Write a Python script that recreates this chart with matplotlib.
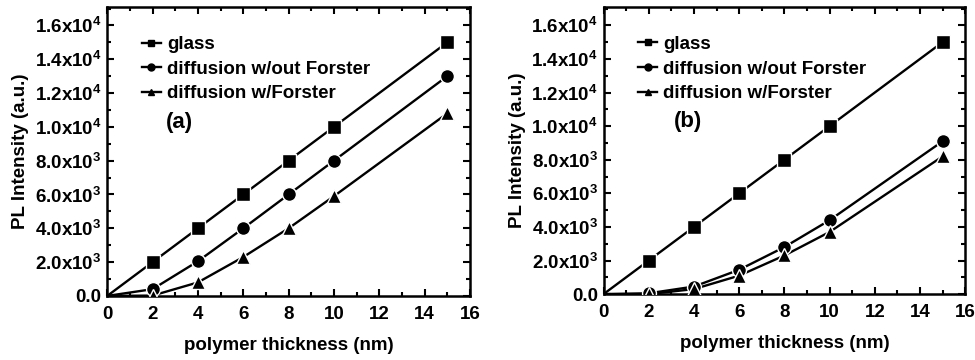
import matplotlib
matplotlib.use("Agg")
import matplotlib.pyplot as plt
from matplotlib.ticker import MultipleLocator, FuncFormatter

plt.rcParams['font.family'] = ['Liberation Sans', 'DejaVu Sans']
plt.rcParams['font.weight'] = 'bold'
plt.rcParams['mathtext.fontset'] = 'custom'
plt.rcParams['mathtext.rm'] = 'Liberation Sans:bold'
plt.rcParams['mathtext.bf'] = 'Liberation Sans:bold'
plt.rcParams['mathtext.default'] = 'bf'

thickness = [0, 2, 4, 6, 8, 10, 15]

# panel (a)
a_glass = [0, 2000, 4000, 6000, 8000, 10000, 15000]
a_no_forster = [0, 400, 2050, 4000, 6000, 8000, 13000]
a_forster = [0, 20, 800, 2300, 4000, 5900, 10800]

# panel (b)
b_glass = [0, 2000, 4000, 6000, 8000, 10000, 15000]
b_no_forster = [0, 50, 450, 1450, 2800, 4400, 9100]
b_forster = [0, 0, 300, 1100, 2300, 3700, 8200]

labels = ["glass", "diffusion w/out Forster", "diffusion w/Forster"]
panel_tags = ["(a)", "(b)"]
markers = ["s", "o", "^"]

FS = 13.5

fig = plt.figure(figsize=(9.75, 3.6), dpi=100)
ax1 = fig.add_axes([0.110, 0.178, 0.372, 0.803])
ax2 = fig.add_axes([0.619, 0.183, 0.371, 0.798])


def fmt(v, pos):
    if abs(v) < 1e-9:
        return "0.0"
    e = 4 if v >= 1e4 else 3
    m = v / 10 ** e
    return r"%.1fx10$^{%d}$" % (m, e)


for ax, series, tag, tagx in [
    (ax1, [a_glass, a_no_forster, a_forster], panel_tags[0], 0.20),
    (ax2, [b_glass, b_no_forster, b_forster], panel_tags[1], 0.233),
]:
    handles = []
    for ys, mk, lab in zip(series, markers, labels):
        ax.plot(thickness, ys, color='black', lw=1.7, zorder=2)
        ax.plot(thickness[1:], ys[1:], ls='none', marker=mk, ms=10,
                mfc='black', mec='white', mew=1.0, zorder=3)
        h, = ax.plot([], [], color='black', lw=1.7, marker=mk, ms=5,
                     mfc='black', mec='black', label=lab)
        handles.append(h)
    ax.set_xlim(0, 16)
    ax.set_ylim(0, 17100)
    ax.xaxis.set_major_locator(MultipleLocator(2))
    ax.xaxis.set_minor_locator(MultipleLocator(1))
    ax.yaxis.set_major_locator(MultipleLocator(2000))
    ax.yaxis.set_minor_locator(MultipleLocator(1000))
    ax.yaxis.set_major_formatter(FuncFormatter(fmt))
    ax.tick_params(which='both', direction='in', top=True, right=True,
                   width=1.5, labelsize=FS)
    ax.tick_params(axis='x', pad=7)
    ax.tick_params(axis='y', pad=4)
    ax.tick_params(which='major', length=5)
    ax.tick_params(which='minor', length=3)
    for s in ax.spines.values():
        s.set_linewidth(1.8)
    for lbl in ax.get_xticklabels() + ax.get_yticklabels():
        lbl.set_fontweight('bold')
    ax.set_xlabel("polymer thickness (nm)", fontsize=FS, fontweight='bold',
                  labelpad=10)
    ax.set_ylabel("PL Intensity (a.u.)", fontsize=FS, fontweight='bold',
                  labelpad=4)
    ax.legend(handles=handles, loc='upper left', bbox_to_anchor=(0.075, 0.925),
              frameon=False, handlelength=1.0, handletextpad=0.35,
              labelspacing=0.4, borderaxespad=0.0,
              prop={'weight': 'bold', 'size': FS})
    ax.text(tagx, 0.60, tag, transform=ax.transAxes, fontsize=16,
            fontweight='bold', ha='center', va='center')

fig.savefig("out.png", dpi=100)
